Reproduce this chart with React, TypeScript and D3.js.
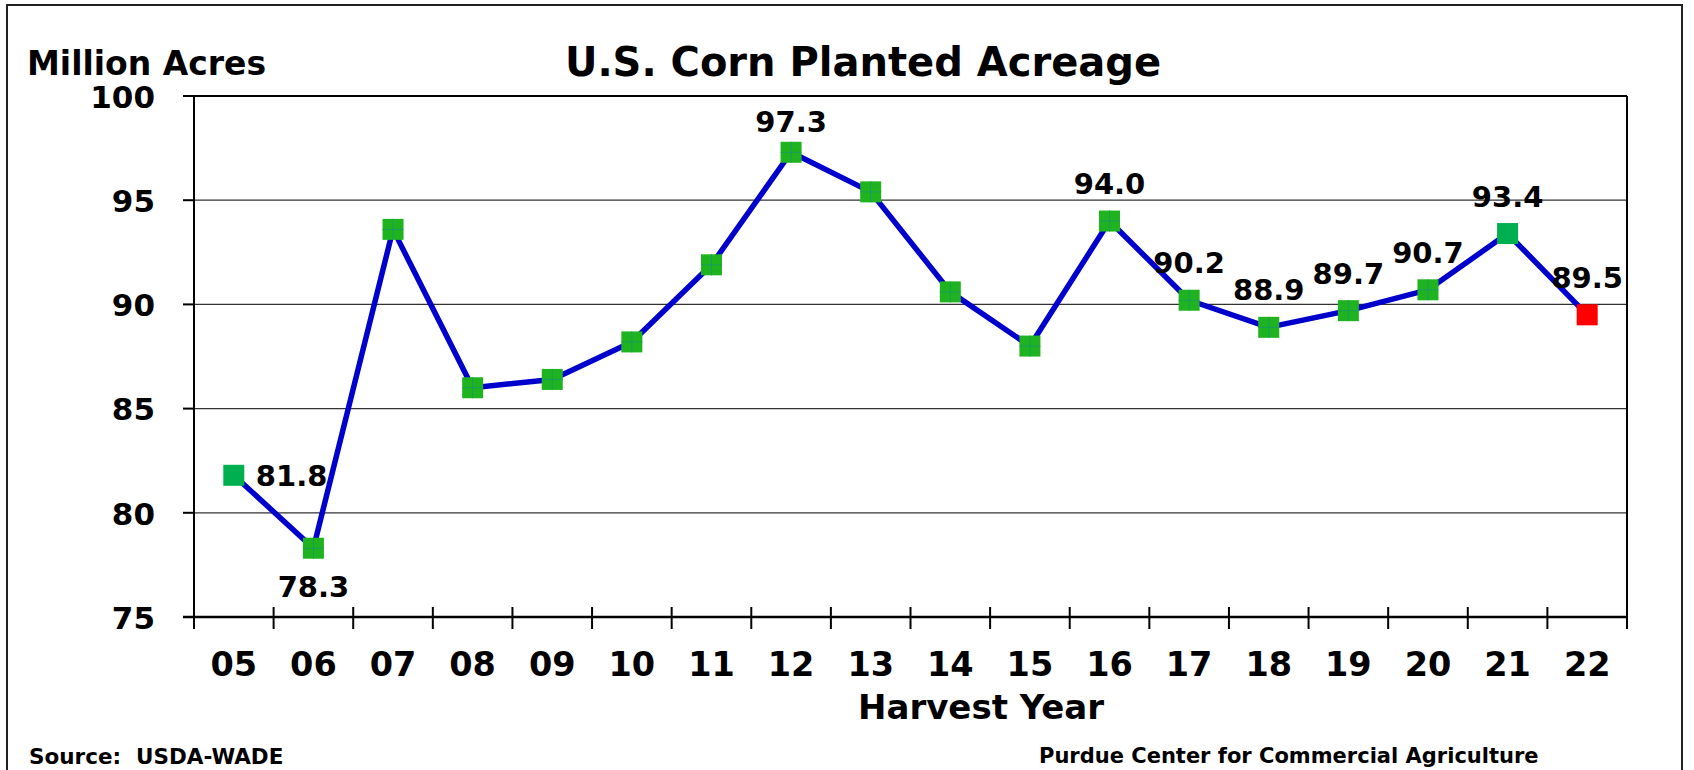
import React from "react";
import * as d3 from "d3";

const years = ["05", "06", "07", "08", "09", "10", "11", "12", "13", "14", "15", "16", "17", "18", "19", "20", "21", "22"];
const acres = [81.8, 78.3, 93.6, 86.0, 86.4, 88.2, 91.9, 97.3, 95.4, 90.6, 88.0, 94.0, 90.2, 88.9, 89.7, 90.7, 93.4, 89.5];
const yTicks = [75, 80, 85, 90, 95, 100];
// which points carry a value label, and where it sits
const labelPos: Record<number, string> = {
  0: "right",
  1: "below",
  7: "above",
  11: "above",
  12: "above",
  13: "above",
  14: "above",
  15: "above",
  16: "above",
  17: "above",
};
const plainGreen = [0, 16];
const redPoint = 17;

const W = 1694;
const H = 770;
const font = "DejaVu Sans, Verdana, sans-serif";

const App = () => {
  const left = 194;
  const right = 1627;
  const top = 96;
  const bottom = 617;

  const x = d3.scaleBand().domain(years).range([left, right]).padding(0);
  const y = d3.scaleLinear().domain([75, 100]).range([bottom, top]);
  const cx = (i: number) => (x(years[i]) as number) + x.bandwidth() / 2;

  const line = d3
    .line<number>()
    .x((_, i) => cx(i))
    .y((d) => y(d));

  const boundaries = d3.range(years.length + 1).map((i) => left + i * x.bandwidth());

  return (
    <svg
      width={W}
      height={H}
      style={{ position: "fixed", left: 0, top: 0, background: "#fff" }}
      fontFamily={font}
      fontWeight="bold"
    >
      <rect x={7} y={5} width={1675} height={800} fill="none" stroke="#222" strokeWidth={2} />

      <text x={863} y={76} fontSize={40} textAnchor="middle">
        U.S. Corn Planted Acreage
      </text>
      <text x={27} y={75} fontSize={33}>
        Million Acres
      </text>

      {/* gridlines */}
      {yTicks
        .filter((t) => t > 75 && t < 100)
        .map((t) => (
          <line key={t} x1={left} x2={right} y1={y(t)} y2={y(t)} stroke="#333" strokeWidth={1.3} />
        ))}

      {/* y ticks + labels */}
      {yTicks.map((t) => (
        <g key={"yt" + t}>
          <line x1={183} x2={left} y1={y(t)} y2={y(t)} stroke="#000" strokeWidth={2} />
          <text x={155} y={y(t)} dy="0.38em" fontSize={31} textAnchor="end">
            {t}
          </text>
        </g>
      ))}

      {/* plot frame */}
      <line x1={left} x2={right} y1={top} y2={top} stroke="#000" strokeWidth={2} />
      <line x1={right} x2={right} y1={top} y2={bottom} stroke="#000" strokeWidth={2} />
      <line x1={left} x2={left} y1={top} y2={629} stroke="#000" strokeWidth={2} />
      <line x1={183} x2={right} y1={bottom} y2={bottom} stroke="#000" strokeWidth={2.5} />

      {/* x ticks */}
      {boundaries.map((b, i) => (
        <line key={"xt" + i} x1={b} x2={b} y1={607} y2={629} stroke="#000" strokeWidth={2} />
      ))}
      {years.map((yr, i) => (
        <text key={"xl" + yr} x={cx(i)} y={676} fontSize={33.5} textAnchor="middle">
          {yr}
        </text>
      ))}
      <text x={981} y={719} fontSize={34} textAnchor="middle">
        Harvest Year
      </text>

      {/* series */}
      <path d={line(acres) || ""} fill="none" stroke="#0000CC" strokeWidth={5.5} strokeLinejoin="round" />
      {acres.map((v, i) => {
        const px = cx(i);
        const py = y(v);
        const fill = i === redPoint ? "#FF0000" : plainGreen.includes(i) ? "#00B050" : "#1FB41F";
        const cross = i !== redPoint && !plainGreen.includes(i);
        return (
          <g key={"m" + i}>
            <rect x={px - 10.5} y={py - 10.5} width={21} height={21} fill={fill} />
            {cross && (
              <>
                <line x1={px - 10.5} x2={px + 10.5} y1={py} y2={py} stroke="#179E5E" strokeWidth={1} />
                <line x1={px} x2={px} y1={py - 10.5} y2={py + 10.5} stroke="#179E5E" strokeWidth={1} />
              </>
            )}
          </g>
        );
      })}

      {/* value labels */}
      {acres.map((v, i) => {
        const pos = labelPos[i];
        if (!pos) return null;
        const px = cx(i);
        const py = y(v);
        const txt = v.toFixed(1);
        if (pos === "right")
          return (
            <text key={"l" + i} x={px + 22} y={py + 11} fontSize={29}>
              {txt}
            </text>
          );
        if (pos === "below")
          return (
            <text key={"l" + i} x={px} y={py + 49} fontSize={29} textAnchor="middle">
              {txt}
            </text>
          );
        return (
          <text key={"l" + i} x={px} y={py - (i === 7 ? 20 : 27)} fontSize={29} textAnchor="middle">
            {txt}
          </text>
        );
      })}

      <text x={29} y={764} fontSize={21.5}>
        Source:{"\u00a0\u00a0"}USDA-WADE
      </text>
      <text x={1039} y={763} fontSize={21}>
        Purdue Center for Commercial Agriculture
      </text>
    </svg>
  );
};

export default App;
